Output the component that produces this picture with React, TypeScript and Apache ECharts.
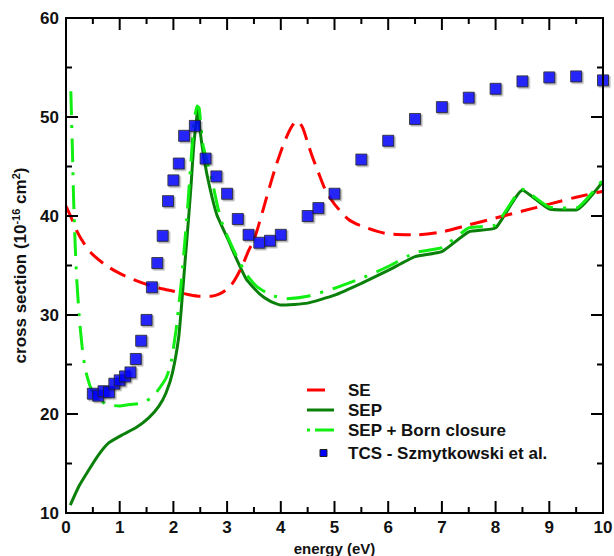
import React, { useEffect, useRef } from "react";
import * as echarts from "echarts";

// ---- data ----
const seX = [0, 0.1, 0.2, 0.35, 0.5, 0.75, 1.0, 1.25, 1.5, 1.75, 2.0, 2.25, 2.5, 2.7, 2.85, 3.0, 3.1, 3.2, 3.3, 3.4, 3.5, 3.6, 3.7, 3.8, 3.9, 4.0, 4.1, 4.2, 4.3, 4.4, 4.5, 4.6, 4.7, 4.8, 4.9, 5.0, 5.25, 5.5, 6.0, 6.5, 7.0, 7.5, 8.0, 8.5, 9.0, 9.5, 10.0];
const seY = [41.0, 39.8, 38.5, 37.1, 36.1, 35.0, 34.2, 33.6, 33.1, 32.7, 32.4, 32.1, 31.9, 31.9, 32.1, 32.6, 33.2, 34.1, 35.2, 36.5, 37.6, 39.3, 41.2, 43.1, 44.9, 46.5, 47.9, 49.0, 49.6, 49.0, 47.4, 45.8, 44.4, 43.0, 42.0, 41.2, 39.7, 39.0, 38.2, 38.1, 38.4, 39.1, 39.8, 40.5, 41.2, 41.9, 42.5];

const sepX = [0.08, 0.24, 0.43, 0.61, 0.8, 1.05, 1.3, 1.54, 1.73, 1.86, 1.98, 2.1, 2.16, 2.22, 2.28, 2.33, 2.38, 2.44, 2.46, 2.49, 2.58, 2.68, 2.81, 3.02, 3.18, 3.36, 3.61, 3.8, 4.0, 4.5, 5.0, 5.5, 6.0, 6.5, 7.0, 7.5, 8.0, 8.5, 9.0, 9.5, 10.0];
const sepY = [10.8, 12.7, 14.4, 15.9, 17.1, 17.9, 18.6, 19.6, 20.8, 22.1, 24.1, 27.8, 31.5, 35.6, 39.6, 43.2, 47.2, 50.2, 50.9, 48.9, 45.5, 42.8, 40.1, 37.6, 35.6, 33.6, 32.1, 31.4, 31.0, 31.2, 32.0, 33.2, 34.5, 35.9, 36.4, 38.4, 38.8, 42.6, 40.7, 40.6, 43.5];

const bornX = [0.09, 0.1, 0.12, 0.14, 0.17, 0.2, 0.25, 0.3, 0.36, 0.45, 0.55, 0.74, 0.99, 1.18, 1.43, 1.65, 1.86, 1.95, 2.05, 2.15, 2.25, 2.32, 2.38, 2.44, 2.48, 2.55, 2.71, 2.83, 2.93, 3.18, 3.36, 3.55, 3.8, 4.1, 4.5, 5.0, 5.5, 6.0, 6.5, 7.0, 7.5, 8.0, 8.5, 9.0, 9.5, 10.0];
const bornY = [52.6, 50.6, 46.5, 42.0, 37.2, 33.6, 29.6, 26.8, 24.5, 22.8, 21.8, 21.0, 20.8, 20.95, 21.1, 21.95, 23.6, 25.0, 28.5, 33.5, 39.8, 45.0, 49.3, 51.1, 50.9, 47.2, 43.8, 40.8, 38.9, 35.9, 34.1, 32.9, 32.05, 31.65, 31.9, 32.7, 33.7, 34.9, 36.3, 36.8, 38.8, 39.1, 42.7, 40.9, 40.8, 43.7];

const tcsX = [0.5, 0.6, 0.7, 0.8, 0.9, 1.0, 1.1, 1.2, 1.3, 1.4, 1.5, 1.6, 1.7, 1.8, 1.9, 2.0, 2.1, 2.2, 2.4, 2.6, 2.8, 3.0, 3.2, 3.4, 3.6, 3.8, 4.0, 4.5, 4.7, 5.0, 5.5, 6.0, 6.5, 7.0, 7.5, 8.0, 8.5, 9.0, 9.5, 10.0];
const tcsY = [22.05, 21.85, 22.3, 22.2, 23.06, 23.4, 23.8, 24.2, 25.56, 27.4, 29.5, 32.8, 35.25, 38.0, 41.5, 43.6, 45.3, 48.1, 49.1, 45.8, 44.0, 42.25, 39.7, 38.1, 37.3, 37.5, 38.1, 40.0, 40.8, 42.25, 45.7, 47.6, 49.8, 51.0, 51.95, 52.85, 53.6, 54.0, 54.1, 53.7];

// tick positions (major ticks carry labels)
const xMajorTicks = [0, 1, 2, 3, 4, 5, 6, 7, 8, 9, 10];
const xMinorTicks = [0.5, 1.5, 2.5, 3.5, 4.5, 5.5, 6.5, 7.5, 8.5, 9.5];
const yMajorTicks = [10, 20, 30, 40, 50, 60];
const yMinorTicks = [15, 25, 35, 45, 55];

const legendNames = ["SE", "SEP", "SEP + Born closure", "TCS - Szmytkowski et al."];

const zip = (xs: number[], ys: number[]) => xs.map((x, i) => [x, ys[i]]);

const FONT = "'Liberation Sans', Arial, Helvetica, sans-serif";
const AX = "#000000";
const X_MIN = 0, X_MAX = 10, Y_MIN = 10, Y_MAX = 60;

// frame + tick items for a custom series: [x, y, tickLength, kind]  kind: 0 = x tick, 1 = y tick, 2 = frame
const frameData = [
  ...xMajorTicks.map((v) => [v, Y_MIN, 12, 0]),
  ...xMinorTicks.map((v) => [v, Y_MIN, 6, 0]),
  ...yMajorTicks.map((v) => [X_MIN, v, 12, 1]),
  ...yMinorTicks.map((v) => [X_MIN, v, 6, 1]),
  [X_MIN, Y_MIN, 0, 2],
];

export default function App() {
  const ref = useRef<HTMLDivElement>(null);
  useEffect(() => {
    if (!ref.current) return;
    const chart = echarts.init(ref.current, undefined, { renderer: "svg" });
    const legendY = [390, 410, 430, 453];
    const labelStyle = { show: true, color: "#111", fontFamily: FONT, fontWeight: "bold", fontSize: 17 };
    const stroke = { stroke: AX, lineWidth: 2, fill: "none" };

    const renderFrame = (params: any, api: any) => {
      const kind = api.value(3);
      const len = api.value(2);
      if (kind === 0) {
        const v = api.value(0);
        const b = api.coord([v, Y_MIN]);
        const t = api.coord([v, Y_MAX]);
        return {
          type: "group",
          children: [
            { type: "line", shape: { x1: b[0], y1: b[1], x2: b[0], y2: b[1] - len }, style: stroke },
            { type: "line", shape: { x1: t[0], y1: t[1], x2: t[0], y2: t[1] + len }, style: stroke },
          ],
        };
      }
      if (kind === 1) {
        const v = api.value(1);
        const l = api.coord([X_MIN, v]);
        const r = api.coord([X_MAX, v]);
        return {
          type: "group",
          children: [
            { type: "line", shape: { x1: l[0], y1: l[1], x2: l[0] + len, y2: l[1] }, style: stroke },
            { type: "line", shape: { x1: r[0], y1: r[1], x2: r[0] - len, y2: r[1] }, style: stroke },
          ],
        };
      }
      const p0 = api.coord([X_MIN, Y_MIN]);
      const p1 = api.coord([X_MAX, Y_MAX]);
      return {
        type: "rect",
        shape: { x: p0[0], y: p1[1], width: p1[0] - p0[0], height: p0[1] - p1[1] },
        style: stroke,
      };
    };

    chart.setOption({
      animation: false,
      grid: { left: 66, right: 11, top: 18, bottom: 43, outerBoundsMode: "none", containLabel: false },
      xAxis: {
        type: "value", min: X_MIN, max: X_MAX, interval: 1,
        axisLine: { show: false }, axisTick: { show: false }, splitLine: { show: false },
        axisLabel: { ...labelStyle, margin: 6 },
        name: "energy (eV)", nameLocation: "middle", nameGap: 24,
        nameTextStyle: { color: "#111", fontFamily: FONT, fontWeight: "bold", fontSize: 15 },
      },
      yAxis: {
        type: "value", min: Y_MIN, max: Y_MAX, interval: 10,
        axisLine: { show: false }, axisTick: { show: false }, splitLine: { show: false },
        axisLabel: { ...labelStyle, margin: 7 },
        name: "cross section (10{sup|-16} cm{sup|2})", nameLocation: "middle", nameGap: 32, nameRotate: 90,
        nameTextStyle: {
          color: "#111", fontFamily: FONT, fontWeight: "bold", fontSize: 17,
          rich: { sup: { fontFamily: FONT, fontWeight: "bold", fontSize: 11, color: "#111", padding: [0, 0, 9, 0] } },
        },
      },
      series: [
        {
          name: legendNames[0], type: "line", data: zip(seX, seY), smooth: 0.3, showSymbol: false, symbol: "none",
          lineStyle: { color: "#ff0000", width: 3, type: [17, 9] }, z: 3,
        },
        {
          name: legendNames[1], type: "line", data: zip(sepX, sepY), smooth: 0.15, showSymbol: false, symbol: "none",
          lineStyle: { color: "#0a800a", width: 3 }, z: 2,
        },
        {
          name: legendNames[2], type: "line", data: zip(bornX, bornY), smooth: 0.15, showSymbol: false, symbol: "none",
          lineStyle: { color: "#11ee11", width: 3, type: [24, 10, 3, 10] }, z: 3,
        },
        {
          name: legendNames[3], type: "scatter", data: zip(tcsX, tcsY), symbol: "rect", symbolSize: 11,
          itemStyle: {
            color: "#0000ff", borderColor: "#222", borderWidth: 1,
            shadowColor: "rgba(0,0,0,0.35)", shadowOffsetX: 1.5, shadowOffsetY: 1.5, shadowBlur: 1,
          },
          z: 4,
        },
        {
          name: "frame", type: "custom", coordinateSystem: "cartesian2d", data: frameData,
          encode: { x: 0, y: 1 }, renderItem: renderFrame, clip: false, silent: true, z: 10,
        },
      ],
      graphic: [
        { type: "line", shape: { x1: 307, y1: legendY[0], x2: 325, y2: legendY[0] }, style: { stroke: "#ff0000", lineWidth: 3 } },
        { type: "line", shape: { x1: 307, y1: legendY[1], x2: 334, y2: legendY[1] }, style: { stroke: "#0a800a", lineWidth: 3 } },
        { type: "line", shape: { x1: 307, y1: legendY[2], x2: 310, y2: legendY[2] }, style: { stroke: "#11ee11", lineWidth: 3 } },
        { type: "line", shape: { x1: 315, y1: legendY[2], x2: 334, y2: legendY[2] }, style: { stroke: "#11ee11", lineWidth: 3 } },
        { type: "rect", shape: { x: 320, y: legendY[3] - 3.5, width: 7, height: 7 }, style: { fill: "#0000ff", stroke: "#222", lineWidth: 1 } },
        ...legendNames.map((t, i) => ({
          type: "text", x: 348, y: legendY[i],
          style: { text: t, fill: "#111", font: `bold 17px ${FONT}`, verticalAlign: "middle" },
        })),
      ],
    });
    return () => chart.dispose();
  }, []);
  return <div ref={ref} style={{ position: "fixed", left: 0, top: 0, width: 614, height: 556, background: "#fff" }} />;
}
